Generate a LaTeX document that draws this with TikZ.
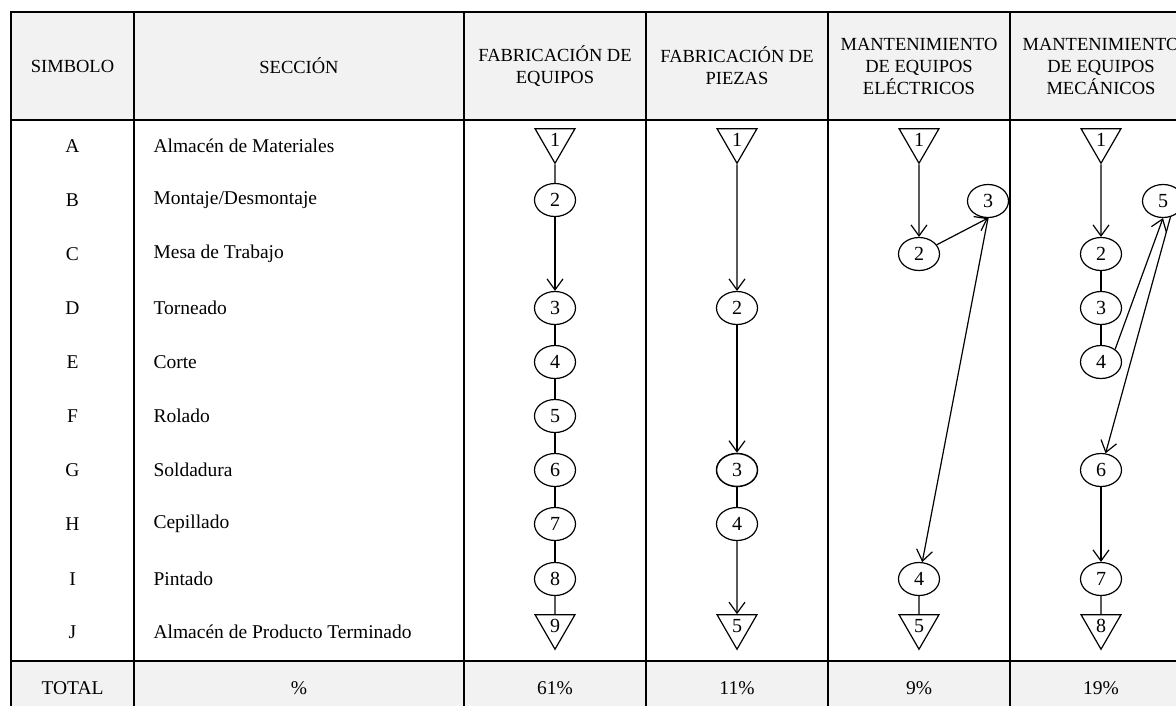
\documentclass[tikz,border=0pt]{standalone}
\usepackage{fontspec}
\setmainfont{Liberation Serif}
\usetikzlibrary{shapes.geometric,arrows.meta}
\definecolor{hdrgray}{RGB}{242,242,242}
\begin{document}
\begin{tikzpicture}[x=1pt,y=-1pt,
  grid/.style={line width=1.8pt,draw=black},
  proc/.style={ellipse,draw,line width=1.2pt,minimum width=41pt,minimum height=33pt,inner sep=0pt,font=\fontsize{20}{20}\selectfont},
  stor/.style={regular polygon,regular polygon sides=3,shape border rotate=180,draw,line width=1.2pt,minimum size=46pt,inner sep=0pt,font=\fontsize{20}{20}\selectfont},
  flow/.style={line width=1.2pt,-{Straight Barb[length=11pt,width=16pt]}},
  link/.style={line width=1.2pt},
  hdr/.style={font=\fontsize{18.5}{22}\selectfont,align=center},
  cell/.style={font=\fontsize{19.5}{22}\selectfont}]
\path[use as bounding box] (0,0) rectangle (1176,705);
\begin{scope}
\clip (0,0) rectangle (1176,705);
% backgrounds
\fill[white] (0,0) rectangle (1176,705);
\fill[hdrgray] (11,12) rectangle (1192,120);
\fill[hdrgray] (11,661) rectangle (1192,715);
% grid
\draw[grid] (11,12) rectangle (1192,715);
\draw[grid] (11,120) -- (1192,120);
\draw[grid] (11,661) -- (1192,661);
\foreach \x in {134,464,646,828,1010} \draw[grid] (\x,12) -- (\x,715);

% header
\node[hdr] (h1) at (72.5,66) {SIMBOLO};
\node[hdr] (h2) at (299,66) {SECCIÓN};
\node[hdr] (h3) at (555,66) {FABRICACIÓN DE\\EQUIPOS};
\node[hdr] (h4) at (737,66) {FABRICACIÓN DE\\PIEZAS};
\node[hdr] (h5) at (919,66) {MANTENIMIENTO\\DE EQUIPOS\\ELÉCTRICOS};
\node[hdr] (h6) at (1101,66) {MANTENIMIENTO\\DE EQUIPOS\\MECÁNICOS};

% rows
\foreach \l/\s/\y [count=\i] in {A/{Almacén de Materiales}/146,B/{Montaje/Desmontaje}/200,C/{Mesa de Trabajo}/254,D/{Torneado}/308,E/{Corte}/362,F/{Rolado}/416,G/{Soldadura}/470,H/{Cepillado}/524,I/{Pintado}/579,J/{Almacén de Producto Terminado}/632}{
  \node[cell] (s\i) at (72.5,\y) {\l};
  \node[cell,anchor=west] (n\i) at (150,\y) {\s};
}

% totals
\node[cell] (t1) at (72.5,688) {TOTAL};
\node[cell] (t2) at (299,688) {\%};
\node[cell] (t3) at (555,688) {61\%};
\node[cell] (t4) at (737,688) {11\%};
\node[cell] (t5) at (919,688) {9\%};
\node[cell] (t6) at (1101,688) {19\%};

% Column: Fabricacion de equipos
\node[stor] (a1) at (555,140.25) {1};
\node[proc] (a2) at (555,200) {2};
\node[proc] (a3) at (555,308) {3};
\node[proc] (a4) at (555,362) {4};
\node[proc] (a5) at (555,416) {5};
\node[proc] (a6) at (555,470) {6};
\node[proc] (a7) at (555,524) {7};
\node[proc] (a8) at (555,579) {8};
\node[stor] (a9) at (555,626.25) {9};
\draw[link] (a1) -- (a2);
\draw[flow] (a2) -- (a3);
\draw[link] (a3) -- (a4);
\draw[link] (a4) -- (a5);
\draw[link] (a5) -- (a6);
\draw[link] (a6) -- (a7);
\draw[link] (a7) -- (a8);
\draw[link] (a8) -- (a9);

% Column: Fabricacion de piezas
\node[stor] (b1) at (737,140.25) {1};
\node[proc] (b2) at (737,308) {2};
\node[proc,line width=1.5pt] (b3) at (737,470) {3};
\node[proc] (b4) at (737,524) {4};
\node[stor] (b5) at (737,626.25) {5};
\draw[flow] (b1) -- (b2);
\draw[flow] (b2) -- (b3);
\draw[link] (b3) -- (b4);
\draw[flow] (b4) -- (b5);

% Column: Mantenimiento electricos
\node[stor] (c1) at (919,140.25) {1};
\node[proc] (c2) at (919,254) {2};
\node[proc] (c3) at (988,201) {3};
\node[proc] (c4) at (919,579) {4};
\node[stor] (c5) at (919,626.25) {5};
\draw[flow] (c1) -- (c2);
\draw[flow] (c2) -- (c3.south);
\draw[flow] (c3.south) -- (c4);
\draw[link] (c4) -- (c5);

% Column: Mantenimiento mecanicos
\node[stor] (d1) at (1101,140.25) {1};
\node[proc] (d2) at (1101,254) {2};
\node[proc] (d3) at (1101,308) {3};
\node[proc] (d4) at (1101,362) {4};
\node[proc] (d5) at (1163,201) {5};
\node[proc] (d6) at (1101,470) {6};
\node[proc] (d7) at (1101,579) {7};
\node[stor] (d8) at (1101,626.25) {8};
\draw[flow] (d1) -- (d2);
\draw[link] (d2) -- (d3);
\draw[link] (d3) -- (d4);
\draw[flow] (d4.42) -- (d5.south);
\draw[flow] (d5.-65) -- (d6);
\draw[flow] (d6) -- (d7);
\draw[link] (d7) -- (d8);
\end{scope}
\end{tikzpicture}
\end{document}
